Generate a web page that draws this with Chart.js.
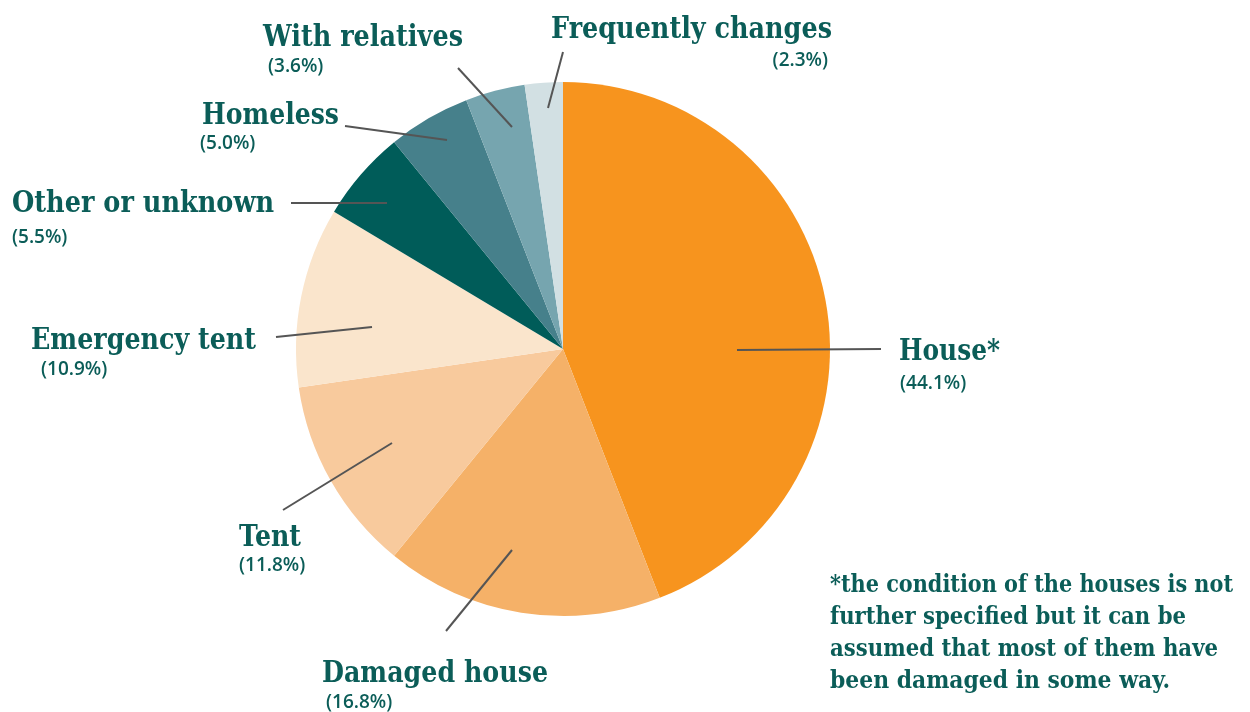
<!DOCTYPE html>
<html lang="en">
<head>
  <meta charset="UTF-8" />
  <title>Accommodation type</title>
  <script src="https://cdn.jsdelivr.net/npm/chart.js"></script>
  <style>
    html, body { margin: 0; padding: 0; background: #fff; }
    #wrap { width: 1250px; height: 712px; }
  </style>
</head>
<body>
  <div id="wrap"><canvas id="pieChart" width="1250" height="712"></canvas></div>

  <script>
    // data
    const categories = ['House*', 'Damaged house', 'Tent', 'Emergency tent', 'Other or unknown', 'Homeless', 'With relatives', 'Frequently changes'];
    const shares = [44.1, 16.8, 11.8, 10.9, 5.5, 5.0, 3.6, 2.3];
    const sliceColors = ['#F7941E', '#F5B168', '#F8CA9D', '#FAE5CC', '#005C59', '#46808B', '#76A5AF', '#D2E0E3'];
    const footnote = [
      '*the condition of the houses is not',
      'further specified but it can be',
      'assumed that most of them have',
      'been damaged in some way.'
    ];

    // label placement (name x/baseline/width, percent x/baseline/align, leader line)
    const labelLayout = [
      { nx: 899, ny: 360, nw: 101, px: 900, py: 389, pa: 'left',  line: [737, 350, 881, 349] },
      { nx: 322, ny: 682, nw: 226, px: 326, py: 708, pa: 'left',  line: [512, 550, 446, 631] },
      { nx: 239, ny: 546, nw: 62,  px: 239, py: 571, pa: 'left',  line: [392, 443, 283, 510] },
      { nx: 31,  ny: 349, nw: 225, px: 41,  py: 375, pa: 'left',  line: [372, 327, 276, 337] },
      { nx: 12,  ny: 212, nw: 262, px: 12,  py: 243, pa: 'left',  line: [387, 203, 291, 203] },
      { nx: 202, ny: 124, nw: 137, px: 200, py: 149, pa: 'left',  line: [447, 140, 345, 126] },
      { nx: 263, ny: 46,  nw: 200, px: 268, py: 72,  pa: 'left',  line: [512, 127, 458, 68] },
      { nx: 551, ny: 38,  nw: 281, px: 828, py: 66,  pa: 'right', line: [548, 108, 563, 52] }
    ];

    const textColor = '#0B5D58';
    const serif = "'DejaVu Serif', serif";

    const labelPlugin = {
      id: 'leaderLabels',
      afterDraw(chart) {
        const ctx = chart.ctx;
        ctx.save();
        // leader lines
        ctx.strokeStyle = '#555555';
        ctx.lineWidth = 2;
        labelLayout.forEach(l => {
          ctx.beginPath();
          ctx.moveTo(l.line[0], l.line[1]);
          ctx.lineTo(l.line[2], l.line[3]);
          ctx.stroke();
        });
        // names + percentages
        ctx.fillStyle = textColor;
        ctx.textBaseline = 'alphabetic';
        labelLayout.forEach((l, i) => {
          ctx.textAlign = 'left';
          ctx.fontStretch = 'condensed';
          ctx.font = "bold 30px " + serif;
          ctx.fillText(categories[i], l.nx, l.ny, l.nw);
          ctx.fontStretch = 'normal';
          ctx.textAlign = l.pa;
          ctx.font = "600 19px 'Open Sans', sans-serif";
          ctx.fillText('(' + shares[i].toFixed(1) + '%)', l.px, l.py);
        });
        // footnote
        ctx.textAlign = 'left';
        ctx.fontStretch = 'condensed';
        ctx.font = "bold 25px " + serif;
        const widths = [403, 356, 388, 340];
        footnote.forEach((t, i) => {
          ctx.fillText(t, 830, 592 + i * 32, widths[i]);
        });
        ctx.restore();
      }
    };

    new Chart(document.getElementById('pieChart'), {
      type: 'pie',
      data: {
        labels: categories,
        datasets: [{
          data: shares,
          backgroundColor: sliceColors,
          borderWidth: 0
        }]
      },
      options: {
        responsive: false,
        animation: false,
        layout: { padding: { left: 296, right: 420, top: 82, bottom: 96 } },
        plugins: {
          legend: { display: false },
          tooltip: { enabled: false }
        }
      },
      plugins: [labelPlugin]
    });
  </script>
</body>
</html>
